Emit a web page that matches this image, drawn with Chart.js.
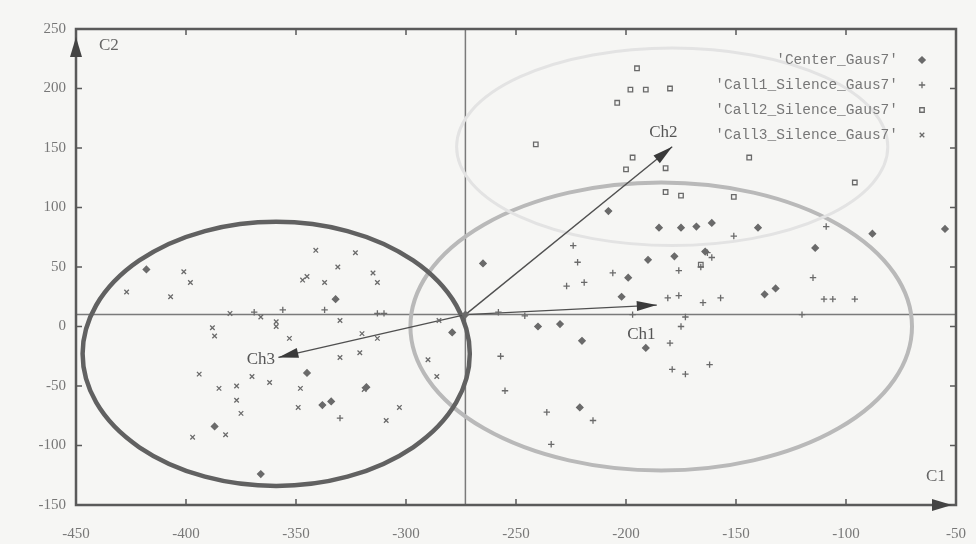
<!DOCTYPE html>
<html>
<head>
<meta charset="utf-8">
<script src="https://cdn.jsdelivr.net/npm/chart.js@4.4.0/dist/chart.umd.min.js"></script>
<style>
  html, body { margin: 0; padding: 0; background: #f6f6f4; }
  #wrap { width: 976px; height: 544px; }
</style>
</head>
<body>
<div id="wrap"><canvas id="plot" width="976" height="544"></canvas></div>
<script>
// --- data (C1 / C2 plane) ---

const xTicks = [-450, -400, -350, -300, -250, -200, -150, -100, -50];
const yTicks = [-150, -100, -50, 0, 50, 100, 150, 200, 250];

const seriesNames = ["'Center_Gaus7'", "'Call1_Silence_Gaus7'", "'Call2_Silence_Gaus7'", "'Call3_Silence_Gaus7'"];

const centerPts = [
  [-273, 10], [-265, 53], [-208, 97], [-185, 83], [-175, 83], [-168, 84], [-190, 56], [-178, 59],
  [-199, 41], [-202, 25], [-240, 0], [-230, 2], [-220, -12], [-191, -18], [-221, -68], [-161, 87],
  [-140, 83], [-114, 66], [-88, 78], [-55, 82], [-164, 63], [-132, 32], [-137, 27], [-418, 48],
  [-387, -84], [-366, -124], [-332, 23], [-345, -39], [-338, -66], [-334, -63], [-318, -51], [-279, -5]
];

const call1Pts = [
  [-224, 68], [-222, 54], [-227, 34], [-219, 37], [-206, 45], [-181, 24], [-176, 26], [-176, 47],
  [-165, 20], [-163, 62], [-166, 50], [-161, 58], [-157, 24], [-151, 76], [-115, 41], [-110, 23],
  [-106, 23], [-96, 23], [-109, 84], [-120, 10], [-258, 12], [-246, 9], [-197, 10], [-173, 8],
  [-175, 0], [-180, -14], [-257, -25], [-255, -54], [-162, -32], [-179, -36], [-173, -40],
  [-236, -72], [-215, -79], [-234, -99], [-330, -77], [-313, 11], [-310, 11], [-356, 14],
  [-337, 14], [-369, 12]
];

const call2Pts = [
  [-195, 217], [-198, 199], [-191, 199], [-180, 200], [-204, 188], [-241, 153], [-197, 142],
  [-200, 132], [-182, 133], [-182, 113], [-175, 110], [-144, 142], [-96, 121], [-151, 109], [-166, 52]
];

const call3Pts = [
  [-401, 46], [-398, 37], [-427, 29], [-407, 25], [-380, 11], [-366, 8], [-388, -1], [-387, -8],
  [-394, -40], [-385, -52], [-377, -50], [-377, -62], [-375, -73], [-382, -91], [-397, -93],
  [-370, -42], [-362, -47], [-341, 64], [-323, 62], [-331, 50], [-345, 42], [-347, 39], [-337, 37],
  [-315, 45], [-313, 37], [-359, 4], [-359, 0], [-330, 5], [-353, -10], [-313, -10], [-320, -6],
  [-285, 5], [-330, -26], [-321, -22], [-348, -52], [-319, -53], [-349, -68], [-309, -79],
  [-303, -68], [-290, -28], [-286, -42]
];

// reference lines through the common origin
const crossX = -273;
const crossY = 10;

// channel vectors: origin -> tip, label position
const arrowOrigin = [-273, 10];
const arrowNames = ['Ch1', 'Ch2', 'Ch3'];
const arrowTips = [[-186, 18], [-179, 151], [-358, -26]];
const arrowLabels = [[-193, -7], [-183, 163], [-366, -28]];

// fitted ellipses (Call1, Call2, Call3): centre and half axes in data units
const ellipseCx = [-184, -179, -359];
const ellipseCy = [0, 151, -23];
const ellipseRx = [114, 98, 88];
const ellipseRy = [121, 83, 111];

// --- styles ---
const INK = '#5a5a5a';
const ellipseColors = ['#b9b9b9', '#e3e3e3', '#616161'];
const ellipseWidths = [4, 3, 4.5];
const markerStyles = ['rectRot', 'cross', 'rect', 'crossRot'];
const markerFills = ['#6a6a6a', '#6a6a6a', 'rgba(0,0,0,0)', '#6a6a6a'];

function toXY(pts) {
  return pts.map(p => ({ x: p[0], y: p[1] }));
}

function arrowHead(ctx, x0, y0, x1, y1, len, half) {
  const a = Math.atan2(y1 - y0, x1 - x0);
  ctx.beginPath();
  ctx.moveTo(x1, y1);
  ctx.lineTo(x1 - len * Math.cos(a) + half * Math.sin(a), y1 - len * Math.sin(a) - half * Math.cos(a));
  ctx.lineTo(x1 - len * Math.cos(a) - half * Math.sin(a), y1 - len * Math.sin(a) + half * Math.cos(a));
  ctx.closePath();
  ctx.fill();
}

// lines, ellipses and vectors under the markers
const underlay = {
  id: 'underlay',
  beforeDatasetsDraw(chart) {
    const { ctx, chartArea: a, scales: { x, y } } = chart;
    ctx.save();

    // cross lines
    ctx.strokeStyle = '#7a7a7a';
    ctx.lineWidth = 1.5;
    ctx.beginPath();
    ctx.moveTo(a.left, y.getPixelForValue(crossY));
    ctx.lineTo(a.right, y.getPixelForValue(crossY));
    ctx.moveTo(x.getPixelForValue(crossX), a.top);
    ctx.lineTo(x.getPixelForValue(crossX), a.bottom);
    ctx.stroke();

    // ellipses
    for (let i = 0; i < ellipseCx.length; i++) {
      const cx = x.getPixelForValue(ellipseCx[i]);
      const cy = y.getPixelForValue(ellipseCy[i]);
      const rx = Math.abs(x.getPixelForValue(ellipseCx[i] + ellipseRx[i]) - cx);
      const ry = Math.abs(y.getPixelForValue(ellipseCy[i] + ellipseRy[i]) - cy);
      ctx.strokeStyle = ellipseColors[i];
      ctx.lineWidth = ellipseWidths[i];
      ctx.beginPath();
      ctx.ellipse(cx, cy, rx, ry, 0, 0, Math.PI * 2);
      ctx.stroke();
    }

    // channel vectors
    const ox = x.getPixelForValue(arrowOrigin[0]);
    const oy = y.getPixelForValue(arrowOrigin[1]);
    ctx.strokeStyle = '#505050';
    ctx.lineWidth = 1.4;
    ctx.font = '17px "Liberation Serif", "DejaVu Serif", serif';
    ctx.textAlign = 'center';
    ctx.textBaseline = 'middle';
    for (let i = 0; i < arrowTips.length; i++) {
      const tx = x.getPixelForValue(arrowTips[i][0]);
      const ty = y.getPixelForValue(arrowTips[i][1]);
      ctx.beginPath();
      ctx.moveTo(ox, oy);
      ctx.lineTo(tx, ty);
      ctx.stroke();
      ctx.fillStyle = '#3a3a3a';
      arrowHead(ctx, ox, oy, tx, ty, 20, 5);
      ctx.fillStyle = '#555';
      ctx.fillText(arrowNames[i], x.getPixelForValue(arrowLabels[i][0]), y.getPixelForValue(arrowLabels[i][1]));
    }
    ctx.restore();
  }
};

// frame, inward ticks, axis arrows, axis names, legend
const overlay = {
  id: 'overlay',
  afterDraw(chart) {
    const { ctx, chartArea: a, scales: { x, y } } = chart;
    ctx.save();
    ctx.strokeStyle = INK;
    ctx.lineWidth = 2.5;
    ctx.strokeRect(a.left, a.top, a.right - a.left, a.bottom - a.top);

    ctx.lineWidth = 1.5;
    ctx.beginPath();
    xTicks.forEach(v => {
      const px = x.getPixelForValue(v);
      ctx.moveTo(px, a.bottom); ctx.lineTo(px, a.bottom - 6);
      ctx.moveTo(px, a.top); ctx.lineTo(px, a.top + 6);
    });
    yTicks.forEach(v => {
      const py = y.getPixelForValue(v);
      ctx.moveTo(a.left, py); ctx.lineTo(a.left + 6, py);
      ctx.moveTo(a.right, py); ctx.lineTo(a.right - 6, py);
    });
    ctx.stroke();

    // axis arrows
    ctx.fillStyle = '#444';
    arrowHead(ctx, a.left, a.top + 60, a.left, a.top + 8, 20, 6);
    arrowHead(ctx, a.right - 60, a.bottom, a.right - 4, a.bottom, 20, 6);

    ctx.font = '17px "Liberation Serif", "DejaVu Serif", serif';
    ctx.fillStyle = '#666';
    ctx.textAlign = 'left';
    ctx.textBaseline = 'middle';
    ctx.fillText('C2', a.left + 23, a.top + 17);
    ctx.fillText('C1', a.right - 30, a.bottom - 28);

    // legend (text right aligned, marker on the right)
    ctx.font = '14.5px "Liberation Mono", "DejaVu Sans Mono", monospace';
    ctx.textAlign = 'right';
    const legX = a.right - 58;
    const mkX = a.right - 34;
    seriesNames.forEach((name, i) => {
      const ly = a.top + 31 + i * 25;
      ctx.fillStyle = '#777';
      ctx.fillText(name, legX, ly);
      ctx.strokeStyle = '#6a6a6a';
      ctx.fillStyle = markerFills[i];
      ctx.lineWidth = 1.3;
      Chart.helpers.drawPoint(ctx, {
        pointStyle: markerStyles[i], radius: 3.2, borderWidth: 1.3, rotation: 0
      }, mkX, ly);
    });
    ctx.restore();
  }
};

function makeSet(i, pts) {
  return {
    label: seriesNames[i],
    data: toXY(pts),
    pointStyle: markerStyles[i],
    pointRadius: 3.2,
    pointBorderWidth: 1.3,
    borderColor: '#6a6a6a',
    backgroundColor: markerFills[i],
    showLine: false
  };
}

const chart = new Chart(document.getElementById('plot'), {
  type: 'scatter',
  data: {
    datasets: [
      makeSet(0, centerPts),
      makeSet(1, call1Pts),
      makeSet(2, call2Pts),
      makeSet(3, call3Pts)
    ]
  },
  options: {
    responsive: false,
    animation: false,
    layout: { padding: { top: 29, right: 20, left: 0, bottom: 0 } },
    plugins: {
      legend: { display: false },
      tooltip: { enabled: false }
    },
    scales: {
      x: {
        type: 'linear',
        min: -450,
        max: -50,
        afterBuildTicks: s => { s.ticks = xTicks.map(v => ({ value: v })); },
        afterFit: s => { s.height = 39; s.paddingLeft = 0; s.paddingRight = 0; },
        grid: { display: false, drawTicks: false },
        border: { display: false },
        ticks: {
          padding: 20,
          color: '#777',
          font: { family: '"Liberation Serif", "DejaVu Serif", serif', size: 15 }
        }
      },
      y: {
        type: 'linear',
        min: -150,
        max: 250,
        afterBuildTicks: s => { s.ticks = yTicks.map(v => ({ value: v })); },
        afterFit: s => { s.width = 76; s.paddingTop = 0; s.paddingBottom = 0; },
        grid: { display: false, drawTicks: false },
        border: { display: false },
        ticks: {
          padding: 10,
          color: '#777',
          font: { family: '"Liberation Serif", "DejaVu Serif", serif', size: 15 }
        }
      }
    }
  },
  plugins: [underlay, overlay]
});
</script>
</body>
</html>
